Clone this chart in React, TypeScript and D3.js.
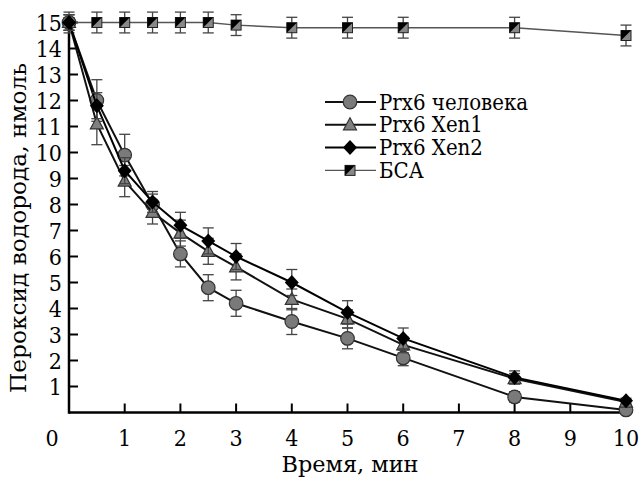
import React from "react";
import * as d3 from "d3";

const times = [0, 0.5, 1, 1.5, 2, 2.5, 3, 4, 5, 6, 8, 10];
const human = [15, 12.0, 9.9, 8.0, 6.1, 4.8, 4.2, 3.5, 2.85, 2.1, 0.6, 0.1];
const humanErr = [0.3, 0.8, 0.8, 0.4, 0.5, 0.5, 0.5, 0.5, 0.4, 0.3, 0.2, 0.1];
const xen1 = [15, 11.1, 8.9, 7.7, 6.9, 6.2, 5.6, 4.35, 3.6, 2.6, 1.3, 0.4];
const xen1Err = [0.3, 0.8, 0.6, 0.45, 0.5, 0.5, 0.5, 0.4, 0.35, 0.3, 0.2, 0.1];
const xen2 = [15, 11.8, 9.3, 8.1, 7.2, 6.6, 6.0, 5.0, 3.85, 2.85, 1.35, 0.45];
const xen2Err = [0.3, 0.5, 0.5, 0.4, 0.5, 0.5, 0.5, 0.5, 0.45, 0.4, 0.25, 0.1];
const bsa = [15, 15, 15, 15, 15, 15, 14.9, 14.8, 14.8, 14.8, 14.8, 14.5];
const bsaErr = [0.4, 0.4, 0.4, 0.4, 0.4, 0.4, 0.4, 0.4, 0.4, 0.4, 0.4, 0.4];

const xTicks = [1, 2, 3, 4, 5, 6, 7, 8, 9, 10];
const yTicks = [1, 2, 3, 4, 5, 6, 7, 8, 9, 10, 11, 12, 13, 14, 15];
const seriesNames = ["Prx6 человека", "Prx6 Xen1", "Prx6 Xen2", "БСА"];
const xTitle = "Время, мин";
const yTitle = "Пероксид водорода, нмоль";

const FONT = "'DejaVu Serif', 'Liberation Serif', 'Noto Serif', serif";

type Kind = "circle" | "triangle" | "diamond" | "square";

function Marker({ kind, x, y }: { kind: Kind; x: number; y: number }) {
  if (kind === "circle")
    return <circle cx={x} cy={y} r={6.8} fill="#7a7a7a" stroke="#333" strokeWidth={1.2} />;
  if (kind === "triangle")
    return (
      <path
        d={`M${x},${y - 7} L${x + 6.5},${y + 5} L${x - 6.5},${y + 5} Z`}
        fill="#808080"
        stroke="#333"
        strokeWidth={1.2}
      />
    );
  if (kind === "diamond")
    return (
      <path d={`M${x},${y - 7.5} L${x + 7},${y} L${x},${y + 7.5} L${x - 7},${y} Z`} fill="#000" />
    );
  const s = 5;
  return (
    <g>
      <rect x={x - s} y={y - s} width={2 * s} height={2 * s} fill="#888" stroke="#222" strokeWidth={1} />
      <path d={`M${x - s},${y - s} L${x + s},${y - s} L${x - s},${y + s} Z`} fill="#000" />
    </g>
  );
}

const txt = { fontFamily: FONT, fontStretch: "condensed" } as React.CSSProperties;

export default function App() {
  const x = d3.scaleLinear().domain([0, 10]).range([69, 626]);
  const y = d3.scaleLinear().domain([0, 15]).range([412.5, 22.5]);
  const line = d3
    .line<[number, number]>()
    .x((d) => x(d[0]))
    .y((d) => y(d[1]));

  const series: { vals: number[]; err: number[]; kind: Kind; color: string; w: number }[] = [
    { vals: bsa, err: bsaErr, kind: "square", color: "#555", w: 1.4 },
    { vals: human, err: humanErr, kind: "circle", color: "#111", w: 2 },
    { vals: xen1, err: xen1Err, kind: "triangle", color: "#111", w: 2 },
    { vals: xen2, err: xen2Err, kind: "diamond", color: "#000", w: 2 },
  ];
  const legendKinds: Kind[] = ["circle", "triangle", "diamond", "square"];
  const legendColors = ["#111", "#111", "#000", "#555"];
  const legendW = [2, 2, 2, 1.4];

  return (
    <svg
      width={640}
      height={480}
      style={{ position: "absolute", left: 0, top: 0, background: "#fff", fontFamily: FONT }}
    >
      <rect width={640} height={480} fill="#fff" />
      {/* axes */}
      <line x1={x(0)} x2={x(10)} y1={y(0)} y2={y(0)} stroke="#000" strokeWidth={2.5} />
      <line x1={x(0)} x2={x(0)} y1={y(0) + 1.2} y2={y(15)} stroke="#000" strokeWidth={2.5} />
      {xTicks.map((t) => (
        <g key={"xt" + t}>
          <line x1={x(t)} x2={x(t)} y1={y(0)} y2={y(0) - 9} stroke="#000" strokeWidth={2} />
          <text x={x(t)} y={446} textAnchor="middle" fontSize={23} style={txt}>
            {t}
          </text>
        </g>
      ))}
      <text x={52} y={446} textAnchor="middle" fontSize={23} style={txt}>
        0
      </text>
      {yTicks.map((t) => (
        <g key={"yt" + t}>
          <line x1={x(0)} x2={x(0) + 9} y1={y(t)} y2={y(t)} stroke="#000" strokeWidth={2} />
          <text x={62} y={y(t) + 8.4} textAnchor="end" fontSize={23} style={txt}>
            {t}
          </text>
        </g>
      ))}
      <text
        x={350}
        y={472}
        textAnchor="middle"
        fontSize={23}
        style={txt}
        textLength={137}
        lengthAdjust="spacingAndGlyphs"
      >
        {xTitle}
      </text>
      <text
        transform={`translate(26,228) rotate(-90)`}
        textAnchor="middle"
        fontSize={22}
        style={txt}
        textLength={330}
        lengthAdjust="spacingAndGlyphs"
      >
        {yTitle}
      </text>

      {/* series */}
      {series.map((s, si) => {
        const pts: [number, number][] = times.map((t, i) => [t, s.vals[i]]);
        return (
          <g key={"s" + si}>
            <path d={line(pts) || ""} fill="none" stroke={s.color} strokeWidth={s.w} />
            {times.map((t, i) => (
              <g key={"e" + i} stroke="#444" strokeWidth={1.3}>
                <line x1={x(t)} x2={x(t)} y1={y(s.vals[i] - s.err[i])} y2={y(s.vals[i] + s.err[i])} />
                <line x1={x(t) - 5.5} x2={x(t) + 5.5} y1={y(s.vals[i] - s.err[i])} y2={y(s.vals[i] - s.err[i])} />
                <line x1={x(t) - 5.5} x2={x(t) + 5.5} y1={y(s.vals[i] + s.err[i])} y2={y(s.vals[i] + s.err[i])} />
              </g>
            ))}
            {times.map((t, i) => (
              <Marker key={"m" + i} kind={s.kind} x={x(t)} y={y(s.vals[i])} />
            ))}
          </g>
        );
      })}

      {/* legend */}
      {seriesNames.map((n, i) => {
        const ly = 102 + i * 22.8;
        return (
          <g key={"l" + i}>
            <line x1={325} x2={376} y1={ly} y2={ly} stroke={legendColors[i]} strokeWidth={legendW[i]} />
            <Marker kind={legendKinds[i]} x={350} y={ly} />
            <text x={379} y={ly + 7.5} fontSize={22} style={txt}>
              {n}
            </text>
          </g>
        );
      })}
    </svg>
  );
}
